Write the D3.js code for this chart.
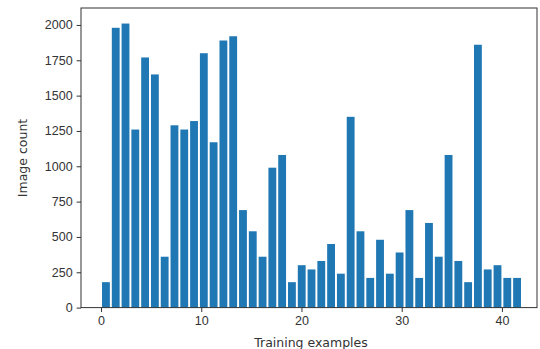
<!DOCTYPE html>
<html>
<head>
<meta charset="utf-8">
<script src="https://cdn.jsdelivr.net/npm/d3@7"></script>
<style>
  body { margin: 0; background: #fff; }
  svg { display: block; font-family: "DejaVu Sans", sans-serif; }
  .tick text { font-size: 12.5px; fill: #333; }
  .tick line, .domain { stroke: #333; }
</style>
</head>
<body>
<svg id="chart" width="540" height="349"></svg>
<script>
// class ids 0..42 and how many images each has
const classes = d3.range(43);
const counts = [180, 1980, 2010, 1260, 1770, 1650, 360, 1290, 1260, 1320,
                1800, 1170, 1890, 1920, 690, 540, 360, 990, 1080, 180,
                300, 270, 330, 450, 240, 1350, 540, 210, 480, 240,
                390, 690, 210, 599, 360, 1080, 330, 180, 1860, 270,
                300, 210, 210];
const xTicks = [0, 10, 20, 30, 40];
const yTicks = [0, 250, 500, 750, 1000, 1250, 1500, 1750, 2000];

const plot = { left: 81, right: 537, top: 8, bottom: 307.6 };

const svg = d3.select("#chart");

const x = d3.scaleLinear().domain([-2, 43.5]).range([plot.left, plot.right]);
const y = d3.scaleLinear().domain([0, 2120]).range([plot.bottom, plot.top]);

// histogram with 43 bins over [0, 42], rwidth 0.8
const binW = 42 / 43;

svg.append("g")
   .selectAll("rect")
   .data(classes)
   .enter()
   .append("rect")
   .attr("x", d => x(d * binW + binW * 0.1))
   .attr("width", x(binW * 0.8) - x(0))
   .attr("y", d => y(counts[d]))
   .attr("height", d => y(0) - y(counts[d]))
   .attr("fill", "#1f77b4");

// frame
svg.append("rect")
   .attr("x", plot.left).attr("y", plot.top)
   .attr("width", plot.right - plot.left).attr("height", plot.bottom - plot.top)
   .attr("fill", "none").attr("stroke", "#333").attr("stroke-width", 1);

const xAxis = svg.append("g")
   .attr("transform", `translate(0, ${plot.bottom})`)
   .call(d3.axisBottom(x).tickValues(xTicks).tickFormat(d3.format("d")).tickSize(4.4).tickPadding(4));
xAxis.select(".domain").remove();

const yAxis = svg.append("g")
   .attr("transform", `translate(${plot.left}, 0)`)
   .call(d3.axisLeft(y).tickValues(yTicks).tickFormat(d3.format("d")).tickSize(4.4).tickPadding(4));
yAxis.select(".domain").remove();

svg.append("text")
   .attr("x", 311)
   .attr("y", 346.5)
   .attr("text-anchor", "middle")
   .attr("font-size", "12.5px")
   .attr("fill", "#333")
   .text("Training examples");

svg.append("text")
   .attr("transform", "translate(26.5, 158) rotate(-90)")
   .attr("text-anchor", "middle")
   .attr("font-size", "12.5px")
   .attr("fill", "#333")
   .text("Image count");
</script>
</body>
</html>
